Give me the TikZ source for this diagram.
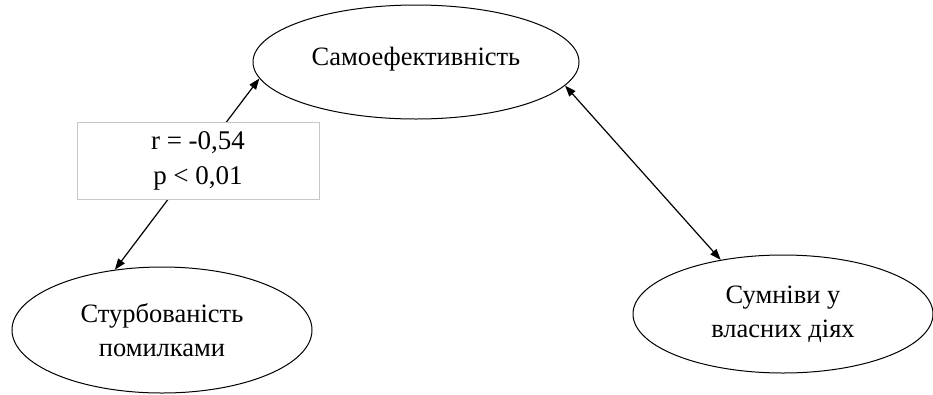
\documentclass[tikz,border=0pt]{standalone}
\usepackage{fontspec}
\setmainfont{Liberation Serif}
\usetikzlibrary{shapes.geometric,arrows.meta}
\begin{document}
\begin{tikzpicture}[x=1pt,y=-1pt,
  oval/.style={draw, ellipse, line width=1pt, inner sep=0pt, align=center,
    font=\fontsize{26.5}{34}\selectfont},
  link/.style={line width=1.2pt, {Triangle[length=11pt,width=8pt]}-{Triangle[length=11pt,width=8pt]}},
  statbox/.style={draw=black!22, line width=1pt, fill=white, minimum width=242pt,
    minimum height=77pt, inner sep=0pt, align=center, font=\fontsize{27}{35}\selectfont}]
  \useasboundingbox (0,0) rectangle (933,394);

  % variables
  \node[oval, minimum width=326pt, minimum height=114pt, text depth=12pt] (se) at (416,62) {Самоефективність};
  \node[oval, minimum width=300pt, minimum height=126pt] (st) at (162,330) {Стурбованість\\помилками};
  \node[oval, minimum width=300pt, minimum height=118pt] (sd) at (783,314) {Сумніви у\\власних діях};

  % correlations
  \draw[link] (st.128.9) -- (se.186.7);
  \draw[link] (se.351.9) -- (sd.139.6);

  % coefficient of the left link
  \node[statbox] (stat) at (198,160.5) {r = -0,54\\p < 0,01};
\end{tikzpicture}
\end{document}
